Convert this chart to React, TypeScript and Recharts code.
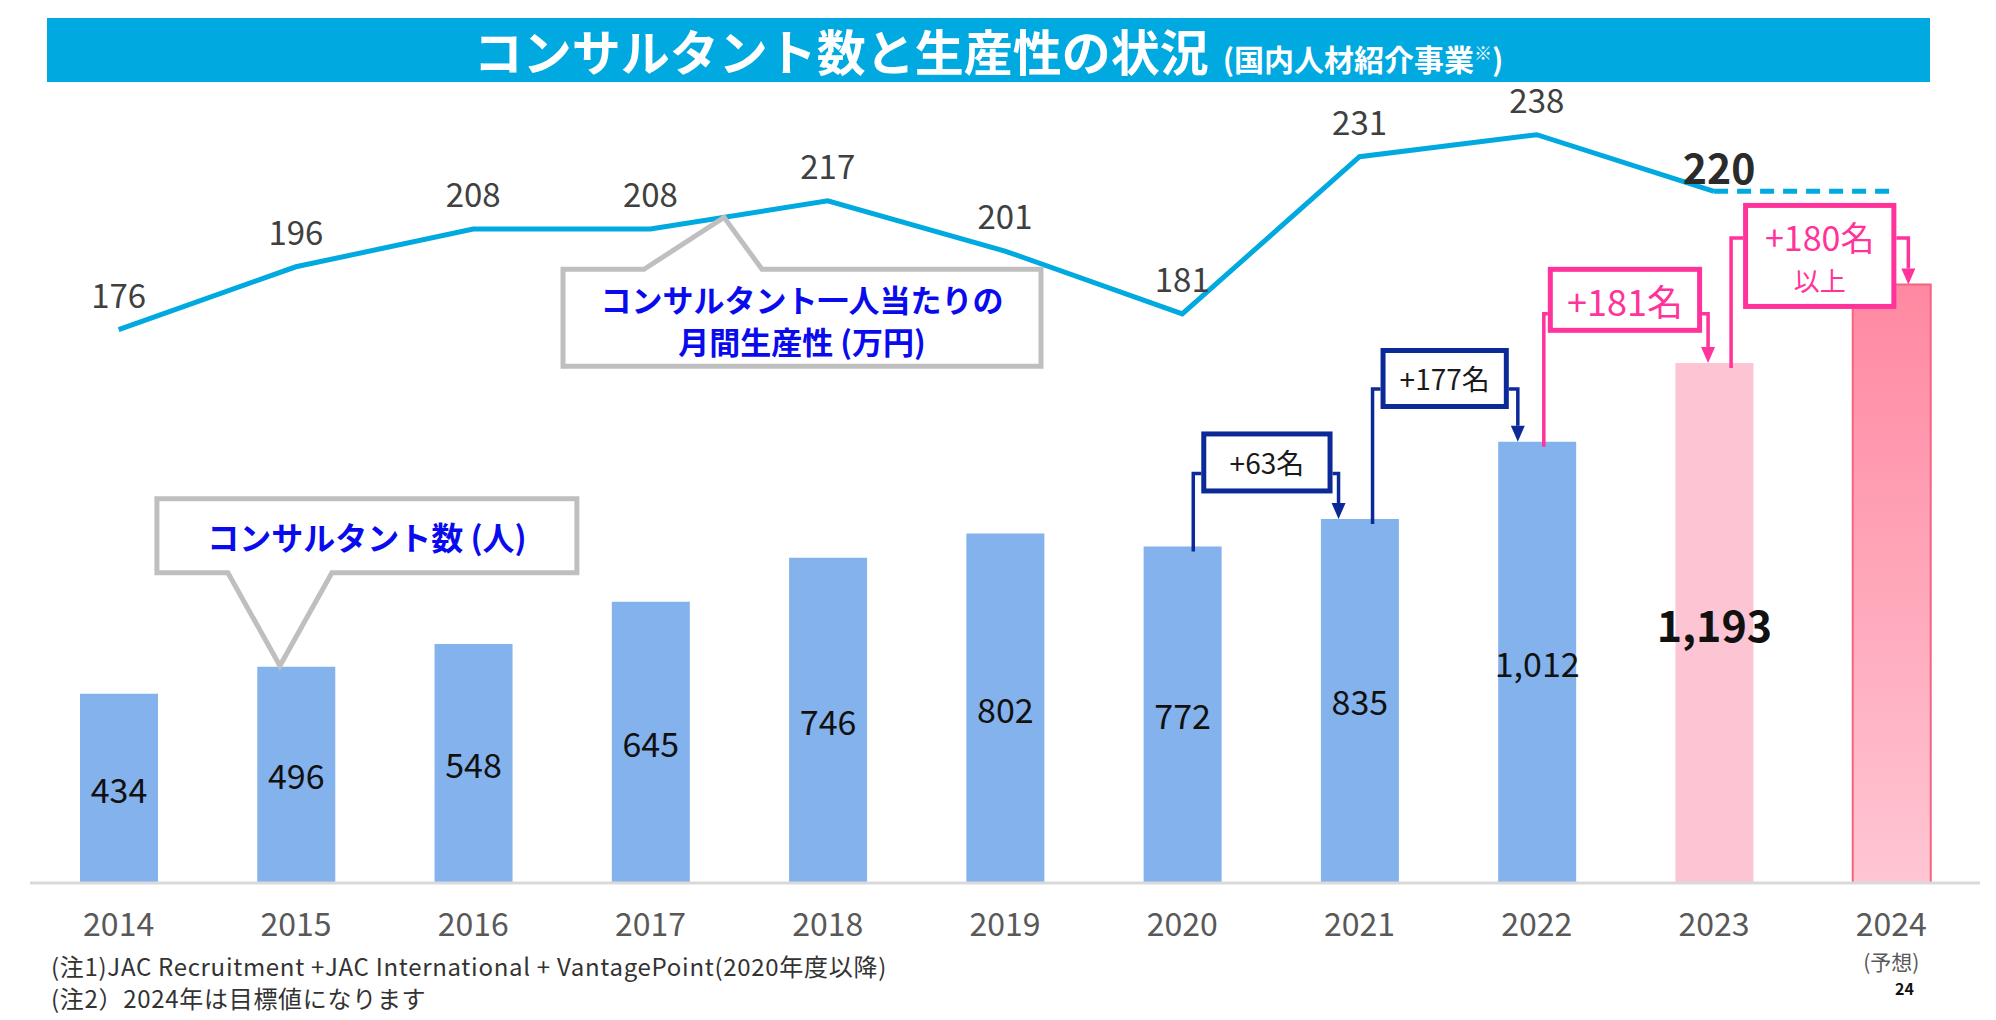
import React from "react";
import {
  ComposedChart,
  Bar,
  Line,
  Cell,
  XAxis,
  YAxis,
  LabelList,
  ReferenceLine,
  ReferenceDot,
} from "recharts";

const years = ["2014", "2015", "2016", "2017", "2018", "2019", "2020", "2021", "2022", "2023", "2024"];
// コンサルタント数 (人) — 2024 is the target (1,193 + 180)
const consultants = [434, 496, 548, 645, 746, 802, 772, 835, 1012, 1193, 1373];
// コンサルタント一人当たりの月間生産性 (万円)
const productivity = [176, 196, 208, 208, 217, 201, 181, 231, 238, 220, null];
const productivityTarget = [null, null, null, null, null, null, null, null, null, 220, 220];

const increaseNotes = [
  { from: "2020", to: "2021", lines: ["+63名"] },
  { from: "2021", to: "2022", lines: ["+177名"] },
  { from: "2022", to: "2023", lines: ["+181名"] },
  { from: "2023", to: "2024", lines: ["+180名", "以上"] },
];

const data = years.map((year, i) => ({
  year,
  consultants: consultants[i],
  productivity: productivity[i],
  target: productivityTarget[i],
}));

const FONT = '"Noto Sans CJK JP", "Noto Sans", sans-serif';
const BLUE_BAR = "#84B2EC";
const PINK_BAR = "#FDC4D3";
const LINE = "#00A9DF";
const NAVY = "#0B2A98";
const PINK = "#FF3399";
const GRAY = "#BFBFBF";

// layout of each "+N名" callout (offsets in px, relative to the two bar tops)
const noteLayout: Record<string, any> = {
  "2020": { dx1: 11, dx2: -21, rise: 73, padL: 8, padR: 6, top: 42, bottom: 20, color: NAVY, text: "#1a1a1a", sizes: [28] },
  "2021": { dx1: 13, dx2: -19, rise: 130, padL: 8, padR: 9, top: 41, bottom: 20, color: NAVY, text: "#1a1a1a", sizes: [28] },
  "2022": { dx1: 7, dx2: -6, rise: 128, padL: 4, padR: 6, top: 47, bottom: 19, color: PINK, text: PINK, sizes: [36] },
  "2023": { dx1: 17, dx2: 17, rise: 125, padL: 12, padR: 12, top: 35, bottom: 71, color: PINK, text: PINK, sizes: [34, 26] },
};

function IncreaseCallout(props: any) {
  const { x1, y1, x2, y2, note } = props;
  const L = noteLayout[note.from];
  const lx = x1 + L.dx1;
  const rx = x2 + L.dx2;
  const level = y1 - L.rise;
  const boxL = lx + L.padL;
  const boxR = rx - L.padR;
  const boxT = level - L.top;
  const boxB = level + L.bottom;
  const ah = 16;
  const cx = (boxL + boxR) / 2;
  const lines: string[] = note.lines;
  return (
    <g>
      <path d={`M${lx},${y1 + 5} V${level} H${boxL}`} fill="none" stroke={L.color} strokeWidth={3.5} />
      <path d={`M${boxR},${level} H${rx} V${y2 - ah}`} fill="none" stroke={L.color} strokeWidth={3.5} />
      <path d={`M${rx - 7},${y2 - ah} L${rx + 7},${y2 - ah} L${rx},${y2} Z`} fill={L.color} />
      <rect
        x={boxL + 2.5}
        y={boxT + 2.5}
        width={boxR - boxL - 5}
        height={boxB - boxT - 5}
        fill="#fff"
        stroke={L.color}
        strokeWidth={5}
      />
      {lines.length === 1 ? (
        <text x={cx} y={(boxT + boxB) / 2} textAnchor="middle" dominantBaseline="central" fontSize={L.sizes[0]} fill={L.text} fontFamily={FONT}>
          {lines[0]}
        </text>
      ) : (
        <>
          <text x={cx} y={boxT + 34} textAnchor="middle" dominantBaseline="central" fontSize={L.sizes[0]} fill={L.text} fontFamily={FONT}>
            {lines[0]}
          </text>
          <text x={cx} y={boxT + 77} textAnchor="middle" dominantBaseline="central" fontSize={L.sizes[1]} fill={L.text} fontFamily={FONT}>
            {lines[1]}
          </text>
        </>
      )}
    </g>
  );
}

// gray speech-bubble pointing at the productivity line
function LineCallout(props: any) {
  const { x1, y1, x2, y2 } = props;
  const t = 0.415;
  const tx = x1 + t * (x2 - x1);
  const ty = y1 + t * (y2 - y1);
  const left = tx - 161, right = tx + 317, top = ty + 52, bottom = ty + 149;
  const cx = (left + right) / 2;
  return (
    <g>
      <path
        d={`M${left},${top} H${tx - 80} L${tx},${ty} L${tx + 38},${top} H${right} V${bottom} H${left} Z`}
        fill="#fff"
        stroke={GRAY}
        strokeWidth={5}
        strokeLinejoin="miter"
      />
      <text x={cx} y={top + 29} textAnchor="middle" dominantBaseline="central" fontSize={31} fontWeight={700} fill="#0A0AEE" fontFamily={FONT}>
        コンサルタント一人当たりの
      </text>
      <text x={cx} y={top + 71} textAnchor="middle" dominantBaseline="central" fontSize={31} fontWeight={700} fill="#0A0AEE" fontFamily={FONT}>
        月間生産性 (万円)
      </text>
    </g>
  );
}

// gray speech-bubble pointing at the 2015 bar
function BarCallout(props: any) {
  const { cx, cy } = props;
  const tx = cx - 16;
  const ty = cy - 1;
  const left = tx - 123, right = tx + 297, top = ty - 167, bottom = ty - 93;
  return (
    <g>
      <path
        d={`M${left},${top} H${right} V${bottom} H${tx + 52} L${tx},${ty} L${tx - 52},${bottom} H${left} Z`}
        fill="#fff"
        stroke={GRAY}
        strokeWidth={5}
      />
      <text x={(left + right) / 2} y={(top + bottom) / 2} textAnchor="middle" dominantBaseline="central" fontSize={32} fontWeight={700} fill="#0A0AEE" fontFamily={FONT}>
        コンサルタント数 (人)
      </text>
    </g>
  );
}

const BarValueLabel = (props: any) => {
  const { x, y, width, height, value, index } = props;
  if (index === years.length - 1 || value == null) return null;
  const bold = index === years.length - 2;
  return (
    <text
      x={x + width / 2}
      y={y + height / 2}
      textAnchor="middle"
      dominantBaseline="central"
      fontSize={bold ? 43 : 34}
      fontWeight={bold ? 700 : 400}
      fill="#111"
      fontFamily={FONT}
    >
      {Number(value).toLocaleString("en-US")}
    </text>
  );
};

const LineValueLabel = (props: any) => {
  const { x, y, value, index } = props;
  if (value == null) return null;
  const bold = index === years.length - 2;
  return (
    <text
      x={bold ? x + 5 : x}
      y={bold ? y - 25 : y - 36}
      textAnchor="middle"
      dominantBaseline="central"
      fontSize={bold ? 41 : 33}
      fontWeight={bold ? 700 : 400}
      fill={bold ? "#2b2b2b" : "#404040"}
      fontFamily={FONT}
    >
      {value}
    </text>
  );
};

const YearTick = (props: any) => {
  const { x, y, payload } = props;
  return (
    <g>
      <text x={x} y={y + 39} textAnchor="middle" dominantBaseline="central" fontSize={32} fill="#595959" fontFamily={FONT}>
        {payload.value}
      </text>
      {payload.value === "2024" && (
        <text x={x} y={y + 78} textAnchor="middle" dominantBaseline="central" fontSize={21} fill="#595959" fontFamily={FONT}>
          (予想)
        </text>
      )}
    </g>
  );
};

export default function App() {
  const last = years.length - 1;
  return (
    <div style={{ position: "absolute", left: 0, top: 0, width: 1996, height: 1020, background: "#fff", fontFamily: FONT, overflow: "hidden" }}>
      <div
        style={{
          position: "absolute",
          left: 47,
          top: 18,
          width: 1883,
          height: 64,
          background: "#00A9DF",
          color: "#fff",
          fontWeight: 700,
          display: "flex",
          alignItems: "baseline",
          justifyContent: "center",
          lineHeight: "64px",
        }}
      >
        <span style={{ fontSize: 49 }}>コンサルタント数と生産性の状況</span>
        <span style={{ fontSize: 30, marginLeft: 14 }}>
          (国内人材紹介事業<span style={{ fontSize: 18, verticalAlign: "super" }}>※</span>)
        </span>
      </div>

      <div style={{ position: "absolute", left: 0, top: 0 }}>
        <ComposedChart width={1996} height={1020} data={data} margin={{ top: 97, right: 16, bottom: 107, left: 30 }}>
          <defs>
            <linearGradient id="target2024" x1="0" y1="0" x2="0" y2="1">
              <stop offset="0%" stopColor="#FF88A1" />
              <stop offset="100%" stopColor="#FFC6D3" />
            </linearGradient>
          </defs>
          <XAxis
            dataKey="year"
            height={30}
            tickLine={false}
            tickSize={0}
            tickMargin={0}
            axisLine={{ stroke: "#D9D9D9", strokeWidth: 3 }}
            tick={<YearTick />}
            interval={0}
          />
          <YAxis yAxisId="left" hide domain={[0, 1803]} />
          <YAxis yAxisId="right" hide orientation="right" domain={[0, 250]} />
          <Bar dataKey="consultants" yAxisId="left" barSize={78} isAnimationActive={false}>
            {data.map((_, i) => (
              <Cell
                key={i}
                fill={i === last ? "url(#target2024)" : i === last - 1 ? PINK_BAR : BLUE_BAR}
                stroke={i === last ? "#F4647F" : "none"}
                strokeWidth={i === last ? 2 : 0}
              />
            ))}
            <LabelList dataKey="consultants" content={<BarValueLabel />} />
          </Bar>
          <Line
            dataKey="productivity"
            yAxisId="right"
            stroke={LINE}
            strokeWidth={5}
            dot={false}
            activeDot={false}
            isAnimationActive={false}
          >
            <LabelList dataKey="productivity" content={<LineValueLabel />} />
          </Line>
          <Line
            dataKey="target"
            yAxisId="right"
            stroke={LINE}
            strokeWidth={5}
            strokeDasharray="14 9"
            dot={false}
            activeDot={false}
            isAnimationActive={false}
          />
          <ReferenceLine
            yAxisId="right"
            segment={[
              { x: "2017", y: productivity[3] as number },
              { x: "2018", y: productivity[4] as number },
            ]}
            shape={(p: any) => <LineCallout {...p} />}
          />
          <ReferenceDot
            yAxisId="left"
            x="2015"
            y={consultants[1]}
            r={0}
            shape={(p: any) => <BarCallout {...p} />}
          />
          {increaseNotes.map((note) => (
            <ReferenceLine
              key={note.from}
              yAxisId="left"
              segment={[
                { x: note.from, y: consultants[years.indexOf(note.from)] },
                { x: note.to, y: consultants[years.indexOf(note.to)] },
              ]}
              shape={(p: any) => <IncreaseCallout {...p} note={note} />}
            />
          ))}
        </ComposedChart>
      </div>

      <div style={{ position: "absolute", left: 51, top: 950, fontSize: 24, color: "#333", lineHeight: "32px", whiteSpace: "nowrap", letterSpacing: 0.7 }}>
        <div>(注1)JAC Recruitment +JAC International + VantagePoint(2020年度以降)</div>
        <div>(注2）2024年は目標値になります</div>
      </div>
      <div style={{ position: "absolute", left: 1895, top: 976, fontSize: 16, fontWeight: 700, color: "#111" }}>24</div>
    </div>
  );
}
